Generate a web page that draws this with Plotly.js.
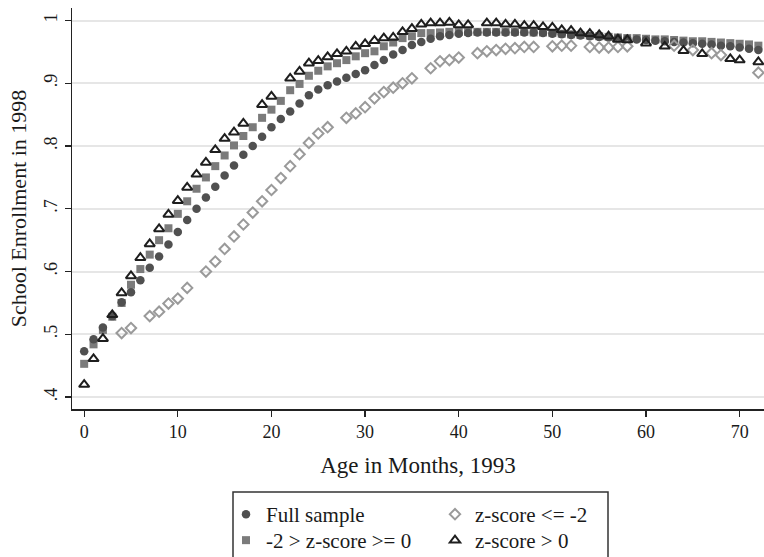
<!DOCTYPE html>
<html>
<head>
<meta charset="utf-8">
<script src="https://cdn.plot.ly/plotly-3.0.1.min.js"></script>
<style>
  html, body { margin: 0; padding: 0; background: #ffffff; }
  #chart { width: 764px; height: 557px; }
</style>
</head>
<body>
<div id="chart"></div>
<script>
// Age in months, 1993
const months = [0,1,2,3,4,5,6,7,8,9,10,11,12,13,14,15,16,17,18,19,20,21,22,23,24,25,26,27,28,29,30,31,32,33,34,35,36,37,38,39,40,41,42,43,44,45,46,47,48,49,50,51,52,53,54,55,56,57,58,59,60,61,62,63,64,65,66,67,68,69,70,71,72];

// School enrollment in 1998 — Full sample
const fullSample = [0.473,0.492,0.511,0.529,0.551,0.567,0.586,0.606,0.624,0.643,0.663,0.682,0.700,0.718,0.735,0.753,0.769,0.786,0.800,0.815,0.830,0.843,0.855,0.868,0.881,0.890,0.897,0.903,0.909,0.915,0.921,0.929,0.937,0.946,0.953,0.961,0.966,0.971,0.975,0.977,0.979,0.980,0.981,0.981,0.981,0.981,0.981,0.981,0.981,0.980,0.979,0.978,0.977,0.976,0.975,0.974,0.973,0.972,0.971,0.970,0.969,0.968,0.967,0.966,0.965,0.964,0.963,0.962,0.960,0.959,0.957,0.955,0.953];

// -2 > z-score >= 0
const zMid = [0.453,0.484,0.507,0.528,0.550,0.579,0.604,0.627,0.650,0.669,0.692,0.712,0.732,0.750,0.768,0.785,0.801,0.816,0.830,0.845,0.858,0.872,0.889,0.899,0.912,0.920,0.927,0.932,0.937,0.943,0.948,0.951,0.959,0.965,0.972,0.975,0.980,0.980,0.981,0.982,0.982,0.982,0.982,0.982,0.982,0.982,0.982,0.982,0.981,0.981,0.980,0.979,0.978,0.977,0.976,0.975,0.974,0.973,0.972,0.972,0.971,0.970,0.970,0.969,0.968,0.967,0.967,0.966,0.965,0.964,0.963,0.962,0.960];

// z-score <= -2
const zLow = [null,null,null,null,0.502,0.510,null,0.529,0.536,0.549,0.557,0.574,null,0.600,0.616,0.636,0.656,0.675,0.694,0.712,0.730,0.749,0.768,0.787,0.805,0.820,0.830,null,0.845,0.852,0.862,0.876,0.886,0.893,0.900,0.908,null,0.924,0.935,0.937,0.941,null,0.948,0.951,0.953,0.955,0.956,0.958,0.958,null,0.959,0.960,0.960,null,0.958,0.957,0.957,0.958,0.959,null,null,null,null,0.960,null,0.953,null,0.948,0.945,null,null,null,0.917];

// z-score > 0
const zHigh = [0.420,0.461,0.493,0.531,0.566,0.593,0.622,0.644,0.668,0.691,0.713,0.734,0.755,0.774,0.794,0.812,0.822,0.836,null,0.866,0.879,null,0.908,0.919,0.932,0.936,0.942,0.947,0.951,0.959,0.963,0.968,0.972,0.973,0.982,0.987,0.994,0.996,0.996,0.997,0.993,0.993,null,0.996,0.996,0.994,0.994,0.992,0.992,0.990,0.989,0.985,0.984,0.980,0.979,0.977,0.975,0.970,0.969,null,0.964,null,0.959,null,0.952,null,0.947,null,null,0.939,0.937,null,0.934];

const seriesNames = ["Full sample", "z-score <= -2", "-2 > z-score >= 0", "z-score > 0"];
const yTickVals = [0.4, 0.5, 0.6, 0.7, 0.8, 0.9, 1];
const yTickText = [".4", ".5", ".6", ".7", ".8", ".9", "1"];
const xTickVals = [0, 10, 20, 30, 40, 50, 60, 70];

const serif = "Liberation Serif, Times New Roman, serif";

const traces = [
  {
    x: months, y: zMid, name: seriesNames[2], type: "scatter", mode: "markers",
    legend: "legend2",
    marker: { symbol: "square", size: 8, color: "#7b7b7b" }
  },
  {
    x: months, y: fullSample, name: seriesNames[0], type: "scatter", mode: "markers",
    legend: "legend",
    marker: { symbol: "circle", size: 8.5, color: "#505050" }
  },
  {
    x: months, y: zLow, name: seriesNames[1], type: "scatter", mode: "markers",
    legend: "legend3",
    marker: { symbol: "diamond-open", size: 8, color: "#9a9a9a", line: { width: 2, color: "#9a9a9a" } }
  },
  {
    x: months, y: zHigh, name: seriesNames[3], type: "scatter", mode: "markers",
    legend: "legend4",
    marker: { symbol: "triangle-up-open", size: 9, color: "#1e1e1e", line: { width: 2, color: "#1e1e1e" } }
  }
];

function legendAt(px, py) {
  return {
    x: (px - 72) / 692, y: (409 - py) / 401, xanchor: "left", yanchor: "top",
    orientation: "v", bgcolor: "rgba(0,0,0,0)", borderwidth: 0,
    font: { family: serif, size: 21, color: "#1a1a1a" },
    itemwidth: 30, tracegroupgap: 0
  };
}

const layout = {
  width: 764, height: 557,
  paper_bgcolor: "#ffffff", plot_bgcolor: "#ffffff",
  margin: { l: 72, r: 0, t: 8, b: 148, autoexpand: false },
  font: { family: serif, size: 17, color: "#1a1a1a" },
  showlegend: true,
  xaxis: {
    range: [-1.3, 72.6], automargin: false,
    tickvals: xTickVals,
    ticks: "outside", ticklen: 6, tickwidth: 1.2, tickcolor: "#222",
    showline: true, linecolor: "#222", linewidth: 1.5,
    showgrid: false, zeroline: false,
    tickfont: { family: serif, size: 18, color: "#1a1a1a" },
    title: { text: "Age in Months, 1993", font: { family: serif, size: 23, color: "#1a1a1a" }, standoff: 16 }
  },
  yaxis: {
    range: [0.381, 1.020], automargin: false,
    tickvals: yTickVals, ticktext: yTickText, tickangle: -90,
    ticks: "outside", ticklen: 6, tickwidth: 1.2, tickcolor: "#222",
    showline: true, linecolor: "#222", linewidth: 1.5,
    showgrid: true, gridcolor: "#e6e6e6", gridwidth: 2,
    zeroline: false,
    tickfont: { family: serif, size: 18, color: "#1a1a1a" },
    title: { text: "School Enrollment in 1998", font: { family: serif, size: 22, color: "#1a1a1a" }, standoff: 8 }
  },
  legend: legendAt(226, 494),
  legend2: legendAt(226, 520),
  legend3: legendAt(435, 494),
  legend4: legendAt(435, 520),
  shapes: [
    {
      type: "rect", xref: "paper", yref: "paper",
      x0: (233 - 72) / 692, x1: (608 - 72) / 692,
      y0: (409 - 492) / 401, y1: (409 - 575) / 401,
      line: { color: "#333", width: 1.5 }, fillcolor: "rgba(0,0,0,0)"
    }
  ]
};

Plotly.newPlot("chart", traces, layout, { displayModeBar: false, staticPlot: true });
</script>
</body>
</html>
